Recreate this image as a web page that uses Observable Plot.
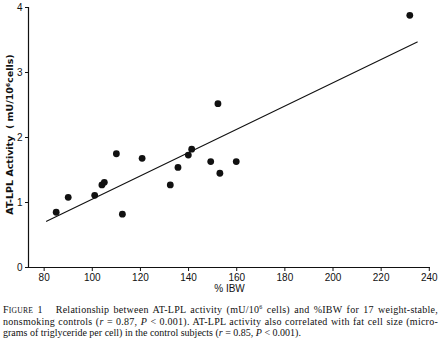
<!DOCTYPE html>
<html><head><meta charset="utf-8">
<script src="https://cdn.jsdelivr.net/npm/d3@7"></script>
<script src="https://cdn.jsdelivr.net/npm/@observablehq/plot@0.6"></script>
<style>
body{margin:0;background:#fff;}
#chart svg{display:block;}
.cap{font-family:"Liberation Serif","DejaVu Serif",serif;font-size:10px;line-height:11px;color:#111;margin:7px 0 0 3px;width:435px;}
.cap div{white-space:nowrap;}
.cap .j{text-align:justify;text-align-last:justify;white-space:normal;letter-spacing:0.25px;}
</style></head>
<body>
<div id="chart"></div>
<div class="cap">
<div class="j">F<span style="font-size:7.6px">IGURE</span> 1&nbsp;&nbsp; Relationship between AT-LPL activity (mU/10<sup style="font-size:6px;line-height:0">6</sup> cells) and %IBW for 17 weight-stable,</div>
<div class="j">nonsmoking controls (<i>r</i> = 0.87, <i>P</i> &lt; 0.001). AT-LPL activity also correlated with fat cell size (micro-</div>
<div>grams of triglyceride per cell) in the control subjects (<i>r</i> = 0.85, <i>P</i> &lt; 0.001).</div>
</div>
<script>
const ibw = [85, 90, 101, 104, 105, 110, 112.5, 120.7, 132.4, 135.6, 139.9, 141.3, 149.2, 152.2, 153, 159.8, 231.9];
const lpl = [0.85, 1.08, 1.11, 1.27, 1.31, 1.75, 0.82, 1.68, 1.27, 1.54, 1.73, 1.82, 1.63, 2.52, 1.45, 1.63, 3.88];
const fitX = [81, 235];
const fitY = [0.71, 3.47];
const xTicks = [80, 100, 120, 140, 160, 180, 200, 220, 240];
const yTicks = [0, 1, 2, 3, 4];
const xDomain = [73.5, 240.5];
const yDomain = [0, 4];

const pts = ibw.map((x, i) => ({x, y: lpl[i]}));
const fit = fitX.map((x, i) => ({x, y: fitY[i]}));

const chart = Plot.plot({
  width: 443, height: 297,
  marginLeft: 28, marginRight: 13, marginTop: 7, marginBottom: 30,
  style: {fontFamily: "'Liberation Sans', Arial, sans-serif", fontSize: "10px", color: "#111"},
  x: {domain: xDomain, ticks: xTicks, tickFormat: "d", tickSize: 4, tickPadding: 2, label: null},
  y: {domain: yDomain, ticks: yTicks, tickFormat: "d", tickSize: 3, tickPadding: 3, label: null},
  marks: [
    Plot.ruleY([yDomain[0]], {stroke: "#111", strokeWidth: 1.2}),
    Plot.ruleX([xDomain[0]], {stroke: "#111", strokeWidth: 1.2}),
    Plot.line(fit, {x: "x", y: "y", stroke: "#111", strokeWidth: 1.1}),
    Plot.dot(pts, {x: "x", y: "y", r: 3.4, fill: "#111", stroke: "none"}),
    Plot.text(["% IBW"], {frameAnchor: "bottom", dy: 24, fontSize: 10, fill: "#111"}),
    Plot.text(["AT-LPL Activity  ( mU/10\u2076cells)"], {frameAnchor: "left", textAnchor: "middle", dx: -19, dy: -3, rotate: -90, fontSize: 9.5, fontWeight: "bold", fontFamily: "'DejaVu Sans', sans-serif", fill: "#111"})
  ]
});
document.getElementById("chart").append(chart);
</script>
</body></html>
